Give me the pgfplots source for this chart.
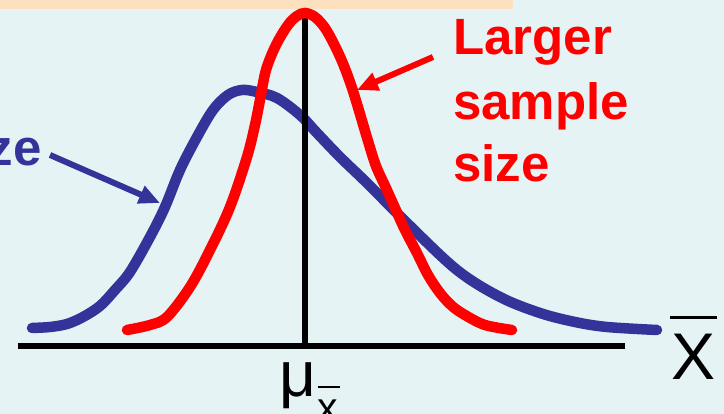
\documentclass[border=0pt]{standalone}
\usepackage{fontspec}
\setmainfont{Liberation Sans}
\usepackage{pgfplots}
\pgfplotsset{compat=1.18}
\usetikzlibrary{arrows.meta}

\definecolor{bgblue}{HTML}{E5F3F4}
\definecolor{banner}{HTML}{FDE0BE}
\definecolor{smallblue}{HTML}{333399}
\definecolor{largered}{HTML}{FF0000}

\begin{document}
\begin{tikzpicture}
\path[use as bounding box, clip] (0,0) rectangle (724pt,414pt);
\fill[bgblue] (0,0) rectangle (724pt,414pt);
\begin{axis}[
  at={(0,0)}, anchor=south west,
  width=724pt, height=414pt, scale only axis,
  xmin=0, xmax=724, ymin=-68, ymax=346,
  hide axis, clip=false,
]
% banner strip along the top
\fill[banner] (axis cs:0,337) rectangle (axis cs:513,346);

% smaller sample size: wide, skewed sampling distribution
\addplot[smallblue, line width=10.5pt, line cap=round, smooth, tension=0.55] coordinates {
  (32,18) (50,19) (67,22) (83,29) (100,40) (115,56) (130,74) (150,109)
  (165,139) (180,176) (197,209) (213,236) (228,251) (242,256) (257,254)
  (277,248) (300,231) (317,213) (340,189) (367,163) (407,123) (457,76)
  (500,49) (540,33) (575,24) (607,19) (657,16)
};

% horizontal axis and the mean line
\addplot[black, line width=6.5pt] coordinates {(18,0) (625,0)};
\addplot[black, line width=5.5pt] coordinates {(305,0) (305,330)};

% larger sample size: narrow sampling distribution
\addplot[largered, line width=10.5pt, line cap=round, smooth, tension=0.55] coordinates {
  (127,16) (150,21) (167,29) (190,59) (210,96) (230,139) (247,189)
  (255,221) (260,246) (266,276) (276,301) (288,321) (297,330) (305,333)
  (315,329) (325,318) (335,300) (344,280) (352,258) (360,232) (368,205)
  (376,180) (386,158) (395,138) (405,116) (417,93) (428,71) (440,53)
  (452,40) (465,31) (485,21) (512,16)
};

% annotations
\node[anchor=base west, text=largered, font=\fontsize{51pt}{51pt}\selectfont\bfseries, inner sep=0pt]
  at (axis cs:453,291) {Larger};
\node[anchor=base west, text=largered, font=\fontsize{51pt}{51pt}\selectfont\bfseries, inner sep=0pt]
  at (axis cs:453,226) {sample};
\node[anchor=base west, text=largered, font=\fontsize{51pt}{51pt}\selectfont\bfseries, inner sep=0pt]
  at (axis cs:453,164) {size};
\draw[largered, line width=6pt, -{Triangle[length=21pt,width=18pt]}]
  (axis cs:433,289) -- (axis cs:357,256);

\node[anchor=base east, text=smallblue, font=\fontsize{51pt}{51pt}\selectfont\bfseries, inner sep=0pt]
  at (axis cs:42,180) {Smaller sample size};
\draw[smallblue, line width=6pt, -{Triangle[length=21pt,width=18pt]}]
  (axis cs:50,191) -- (axis cs:160,143);

% axis labels
\node[anchor=base west, font=\fontsize{64pt}{64pt}\selectfont, inner sep=0pt]
  at (axis cs:279,-51) {μ};
\node[anchor=base west, font=\fontsize{41pt}{41pt}\selectfont, inner sep=0pt]
  at (axis cs:317,-76) {x};
\draw[black, line width=2pt] (axis cs:318,-41) -- (axis cs:340,-41);

\node[anchor=base west, font=\fontsize{66pt}{66pt}\selectfont, inner sep=0pt]
  at (axis cs:671,-34) {X};
\draw[black, line width=3pt] (axis cs:670,28) -- (axis cs:717,28);
\end{axis}
\end{tikzpicture}
\end{document}
